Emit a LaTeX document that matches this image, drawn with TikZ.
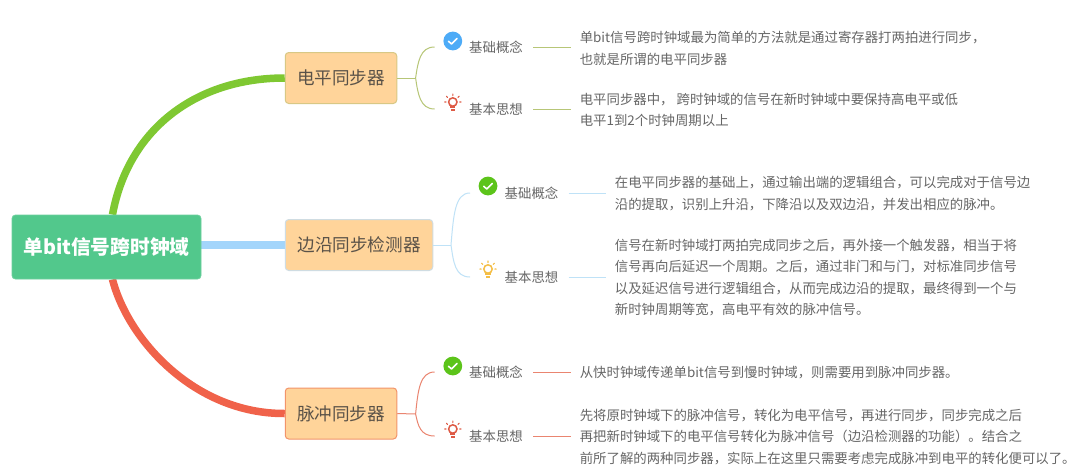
\documentclass[tikz,border=0pt]{standalone}
\usepackage{fontspec}
\setmainfont{Noto Sans CJK SC}
\usetikzlibrary{backgrounds}
\definecolor{rootfill}{HTML}{52C88C}
\definecolor{boxfill}{HTML}{FFD49A}
\definecolor{greenmain}{HTML}{7FC832}
\definecolor{bluemain}{HTML}{A3D5FB}
\definecolor{redmain}{HTML}{F0624A}
\definecolor{greensub}{HTML}{B7C677}
\definecolor{bluesub}{HTML}{BFE2F7}
\definecolor{redsub}{HTML}{EA8570}
\definecolor{txtgray}{HTML}{666666}
\definecolor{boxtxt}{HTML}{5A5248}
\definecolor{iconblue}{HTML}{4DABF7}
\definecolor{icongreen}{HTML}{5CC41A}
\definecolor{iconyellow}{HTML}{F4BE46}
\definecolor{iconred}{HTML}{DE5A45}
\definecolor{edgeone}{HTML}{D8C885}
\definecolor{edgetwo}{HTML}{CFDCE2}
\definecolor{edgethree}{HTML}{F2946A}
\tikzset{
  rootbox/.style={draw=rootfill!85!white,fill=rootfill,rounded corners=3.5pt,line width=0.8pt,
    minimum width=189pt,minimum height=64pt,inner sep=0pt,text=white,
    font=\fontsize{19.7}{24}\selectfont\bfseries},
  topicbox/.style={fill=boxfill,rounded corners=3.5pt,line width=1pt,minimum height=51pt,
    inner sep=0pt,text=boxtxt,font=\fontsize{17.6}{21}\selectfont},
  sublabel/.style={inner xsep=10pt,inner ysep=0pt,text=txtgray,font=\fontsize{13.4}{16}\selectfont},
  desc/.style={anchor=west,inner xsep=9pt,inner ysep=0pt,align=left,text=txtgray,
    font=\fontsize{13.4}{21.6}\selectfont},
  mainlink/.style={line width=7.5pt},
  sublink/.style={line width=1pt},
  pics/checkicon/.style={code={
    \fill[#1] (0,0) circle (9.4);
    \draw[white,line width=1.6pt,line cap=round,line join=round] (-4.3,0.3) -- (-1.2,3) -- (4.3,-2.6);
  }},
  pics/bulbicon/.style={code={
    \draw[#1,line width=1.5pt] (0,-1) circle (4.2);
    \draw[#1,line width=1.1pt,line cap=round]
      (0,-7.5) -- (0,-9) (-5.2,-5.6) -- (-6.4,-6.8) (5.2,-5.6) -- (6.4,-6.8)
      (-6.8,-1) -- (-8.2,-1) (6.8,-1) -- (8.2,-1);
    \fill[#1] (-2.6,3.4) rectangle (2.6,5.2);
    \fill[#1] (-1.8,6) rectangle (1.8,8);
  }}
}
\begin{document}
\begin{tikzpicture}[x=1pt,y=-1pt]
\useasboundingbox (0,0) rectangle (1080,464);

\node[rootbox] (root) at (106.5,247) {单bit信号跨时钟域};

\node[topicbox,draw=edgeone,minimum width=111.5pt] (t1) at (341,78) {电平同步器};
\node[topicbox,draw=edgetwo,minimum width=147.5pt] (t2) at (359,245) {边沿同步检测器};
\node[topicbox,draw=edgethree,minimum width=111.5pt] (t3) at (341,413.5) {脉冲同步器};

% icons
\pic at (452.8,41) {checkicon=iconblue};
\pic at (452.8,103) {bulbicon=iconred};
\pic at (488,186) {checkicon=icongreen};
\pic at (488,270) {bulbicon=iconyellow};
\pic at (452.8,366) {checkicon=icongreen};
\pic at (452.8,430) {bulbicon=iconred};

% labels
\node[sublabel] (l1a) at (496,47) {基础概念};
\node[sublabel] (l1b) at (496,109) {基本思想};
\node[sublabel] (l2a) at (531.5,193) {基础概念};
\node[sublabel] (l2b) at (531.5,277) {基本思想};
\node[sublabel] (l3a) at (496,372) {基础概念};
\node[sublabel] (l3b) at (496,436) {基本思想};

% descriptions
\node[desc] (d1a) at (570.6,48.5) {单bit信号跨时钟域最为简单的方法就是通过寄存器打两拍进行同步，\\也就是所谓的电平同步器};
\node[desc] (d1b) at (570.6,110) {电平同步器中， 跨时钟域的信号在新时钟域中要保持高电平或低\\电平1到2个时钟周期以上};
\node[desc] (d2a) at (605.7,193.5) {在电平同步器的基础上，通过输出端的逻辑组合，可以完成对于信号边\\沿的提取，识别上升沿，下降沿以及双边沿，并发出相应的脉冲。};
\node[desc] (d2b) at (605.7,277.5) {信号在新时钟域打两拍完成同步之后，再外接一个触发器，相当于将\\信号再向后延迟一个周期。之后，通过非门和与门，对标准同步信号\\以及延迟信号进行逻辑组合，从而完成边沿的提取，最终得到一个与\\新时钟周期等宽，高电平有效的脉冲信号。};
\node[desc] (d3a) at (570.6,372.5) {从快时钟域传递单bit信号到慢时钟域，则需要用到脉冲同步器。};
\node[desc] (d3b) at (570.6,437) {先将原时钟域下的脉冲信号，转化为电平信号，再进行同步，同步完成之后\\再把新时钟域下的电平信号转化为脉冲信号（边沿检测器的功能）。结合之\\前所了解的两种同步器，实际上在这里只需要考虑完成脉冲到电平的转化便可以了。};

% junctions and free ends of the brackets
\coordinate (j1) at (415.6,78);
\coordinate (e1a) at (434.6,47);
\coordinate (e1b) at (434.6,109);
\coordinate (j2) at (451,245);
\coordinate (e2a) at (470,193);
\coordinate (e2b) at (470,277);
\coordinate (j3) at (415.6,414);
\coordinate (e3a) at (434.6,372);
\coordinate (e3b) at (434.6,436);

\begin{scope}[on background layer]
\fill[white] (0,0) rectangle (1080,464);
\draw[mainlink,greenmain] ([xshift=6pt]root.north) .. controls (128,130) and (195,78) .. (t1.west);
\draw[mainlink,bluemain] (root.east |- t2.west) -- (t2.west);
\draw[mainlink,redmain] ([xshift=6pt]root.south) .. controls (128,340) and (195,414) .. (t3.west);
\end{scope}

\draw[sublink,greensub] (t1.east) -- (j1);
\draw[sublink,greensub] (e1a) .. controls (420,47) and (418,62) .. (j1) .. controls (418,94) and (420,109) .. (e1b);
\draw[sublink,greensub] (l1a.east) -- (l1a.east -| d1a.west);
\draw[sublink,greensub] (l1b.east) -- (l1b.east -| d1b.west);

\draw[sublink,bluesub] (t2.east) -- (j2);
\draw[sublink,bluesub] (e2a) .. controls (455,193) and (453.5,215) .. (j2) .. controls (453.5,262) and (455,277) .. (e2b);
\draw[sublink,bluesub] (l2a.east) -- (l2a.east -| d2a.west);
\draw[sublink,bluesub] (l2b.east) -- (l2b.east -| d2b.west);

\draw[sublink,redsub] (t3.east) -- (j3);
\draw[sublink,redsub] (e3a) .. controls (420,372) and (418,390) .. (j3) .. controls (418,425) and (420,436) .. (e3b);
\draw[sublink,redsub] (l3a.east) -- (l3a.east -| d3a.west);
\draw[sublink,redsub] (l3b.east) -- (l3b.east -| d3b.west);
\end{tikzpicture}
\end{document}
